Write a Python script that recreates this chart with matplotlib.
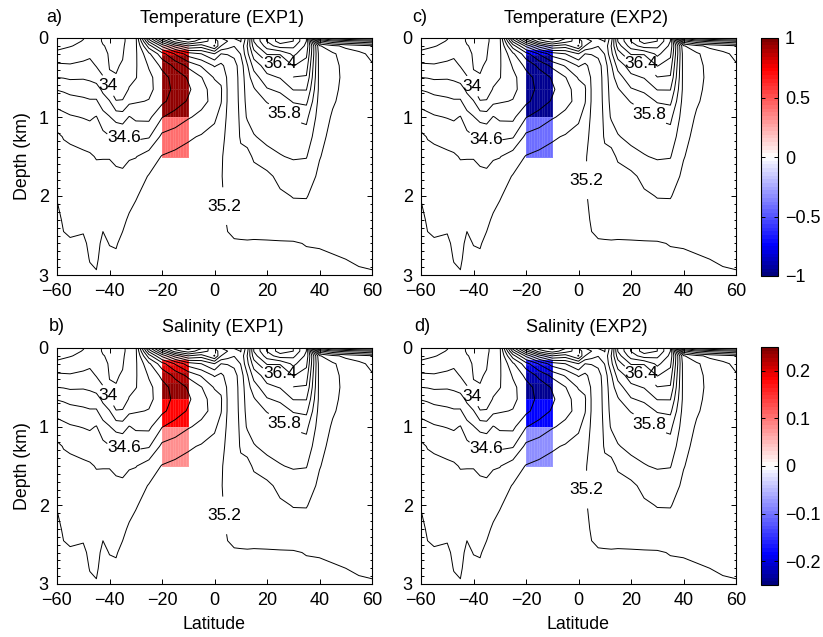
import numpy as np
import matplotlib
matplotlib.use("Agg")
import matplotlib.pyplot as plt
from matplotlib.colors import LinearSegmentedColormap, Normalize
from matplotlib.cm import ScalarMappable
from matplotlib.ticker import MultipleLocator, FuncFormatter

plt.rcParams['font.family'] = ['Liberation Sans', 'DejaVu Sans']

# ---------------------------------------------------------------------------
# Zonal-mean salinity section (psu): one profile per latitude, on `depth` (km)
# ---------------------------------------------------------------------------
lat = [-60, -57.5, -55, -50, -47.5, -45, -42.5, -40, -37.5, -35, -32.5, -30,
       -25, -20, -15, -10, -5, 0, 2.5, 5, 7.5, 10, 12.5, 15, 20, 25, 30, 35,
       40, 45, 50, 55, 60]
depth = [0, 0.04, 0.1, 0.2, 0.35, 0.5, 0.65, 0.8, 1.0, 1.25, 1.5, 1.75, 2.0,
         2.3, 2.6, 2.8, 3.0]

s60S = [33.66, 33.68, 33.74, 33.85, 34.04, 34.20, 34.39, 34.53, 34.68, 34.84, 34.90, 34.94, 34.99, 35.04, 35.06, 35.07, 35.08]
s57S = [33.70, 33.72, 33.77, 33.86, 34.03, 34.19, 34.37, 34.50, 34.65, 34.79, 34.86, 34.90, 34.94, 34.98, 35.02, 35.04, 35.05]
s55S = [33.72, 33.74, 33.79, 33.88, 34.02, 34.17, 34.34, 34.47, 34.62, 34.77, 34.85, 34.89, 34.93, 34.97, 35.01, 35.03, 35.04]
s50S = [33.79, 33.81, 33.84, 33.92, 34.05, 34.18, 34.32, 34.44, 34.59, 34.74, 34.83, 34.88, 34.92, 34.97, 35.02, 35.04, 35.05]
s47S = [33.85, 33.87, 33.90, 33.96, 34.06, 34.16, 34.30, 34.42, 34.57, 34.72, 34.82, 34.87, 34.91, 34.95, 34.98, 34.995, 35.02]
s45S = [33.86, 33.87, 33.90, 33.95, 33.99, 34.10, 34.30, 34.42, 34.61, 34.72, 34.79, 34.85, 34.89, 34.93, 34.96, 34.98, 35.01]
s42S = [33.78, 33.78, 33.81, 33.86, 33.94, 34.01, 34.15, 34.30, 34.47, 34.66, 34.79, 34.86, 34.92, 34.97, 35.03, 35.05, 35.06]
s40S = [33.76, 33.76, 33.77, 33.78, 33.79, 33.82, 34.01, 34.21, 34.41, 34.61, 34.79, 34.86, 34.91, 34.96, 34.995, 35.03, 35.05]
s37S = [33.76, 33.76, 33.77, 33.78, 33.79, 33.805, 33.88, 34.01, 34.32, 34.61, 34.76, 34.84, 34.90, 34.95, 34.99, 35.02, 35.04]
s35S = [33.77, 33.77, 33.78, 33.79, 33.81, 33.86, 33.93, 34.01, 34.30, 34.58, 34.74, 34.84, 34.90, 34.97, 35.03, 35.05, 35.06]
s32S = [33.85, 33.85, 33.86, 33.88, 33.92, 33.96, 34.01, 34.15, 34.41, 34.62, 34.78, 34.88, 34.95, 35.02, 35.06, 35.07, 35.08]
s30S = [33.95, 33.95, 33.96, 33.97, 33.98, 33.99, 34.08, 34.18, 34.36, 34.56, 34.79, 34.92, 34.99, 35.04, 35.07, 35.08, 35.08]
s25S = [35.30, 35.05, 34.70, 34.36, 34.22, 34.15, 34.15, 34.21, 34.35, 34.58, 34.90, 35.01, 35.05, 35.07, 35.08, 35.09, 35.09]
s20S = [36.10, 35.75, 35.25, 34.72, 34.45, 34.32, 34.30, 34.35, 34.59, 34.85, 35.01, 35.05, 35.07, 35.08, 35.09, 35.09, 35.09]
s15S = [36.50, 36.30, 35.70, 35.02, 34.65, 34.48, 34.45, 34.50, 34.68, 34.90, 35.05, 35.07, 35.08, 35.09, 35.09, 35.10, 35.10]
s10S = [36.70, 36.50, 36.00, 35.30, 34.85, 34.62, 34.57, 34.62, 34.78, 34.97, 35.08, 35.09, 35.09, 35.10, 35.10, 35.10, 35.10]
s05S = [36.42, 36.30, 35.90, 35.40, 35.02, 34.79, 34.72, 34.74, 34.85, 35.02, 35.10, 35.10, 35.10, 35.10, 35.10, 35.10, 35.10]
s00 = [36.00, 36.10, 36.22, 35.60, 35.22, 35.02, 34.90, 34.86, 34.97, 35.06, 35.10, 35.10, 35.10, 35.10, 35.10, 35.10, 35.10]
s02N = [35.80, 35.90, 35.80, 35.40, 35.15, 35.04, 34.98, 34.99, 35.06, 35.14, 35.18, 35.19, 35.18, 35.15, 35.12, 35.11, 35.10]
s05N = [35.70, 35.80, 35.70, 35.41, 35.28, 35.23, 35.22, 35.22, 35.24, 35.25, 35.26, 35.25, 35.24, 35.22, 35.18, 35.15, 35.13]
s07N = [35.58, 35.70, 35.61, 35.45, 35.32, 35.30, 35.30, 35.30, 35.30, 35.30, 35.30, 35.29, 35.27, 35.24, 35.19, 35.16, 35.14]
s10N = [35.58, 35.59, 35.65, 35.61, 35.50, 35.48, 35.47, 35.46, 35.44, 35.42, 35.36, 35.33, 35.30, 35.25, 35.19, 35.16, 35.14]
s12N = [35.90, 35.95, 36.01, 35.95, 35.78, 35.72, 35.69, 35.67, 35.63, 35.45, 35.36, 35.32, 35.30, 35.26, 35.19, 35.16, 35.14]
s15N = [36.62, 36.61, 36.50, 36.30, 36.08, 35.90, 35.78, 35.72, 35.66, 35.59, 35.42, 35.35, 35.31, 35.25, 35.19, 35.16, 35.14]
s20N = [37.02, 37.01, 36.90, 36.62, 36.30, 36.15, 35.98, 35.81, 35.70, 35.64, 35.55, 35.34, 35.30, 35.26, 35.19, 35.16, 35.14]
s25N = [37.30, 37.30, 37.10, 36.62, 36.35, 36.21, 36.05, 35.88, 35.75, 35.67, 35.59, 35.47, 35.36, 35.28, 35.19, 35.17, 35.15]
s30N = [37.20, 37.20, 37.05, 36.85, 36.61, 36.39, 36.21, 36.02, 35.82, 35.70, 35.62, 35.50, 35.41, 35.30, 35.19, 35.17, 35.16]
s35N = [36.80, 36.80, 36.75, 36.65, 36.50, 36.38, 36.21, 36.05, 35.85, 35.72, 35.61, 35.50, 35.41, 35.32, 35.205, 35.18, 35.17]
s40N = [34.30, 34.85, 35.42, 35.50, 35.52, 35.53, 35.54, 35.52, 35.50, 35.45, 35.41, 35.36, 35.32, 35.28, 35.21, 35.18, 35.17]
s45N = [34.05, 34.62, 35.25, 35.43, 35.45, 35.45, 35.44, 35.42, 35.38, 35.35, 35.32, 35.30, 35.28, 35.26, 35.22, 35.19, 35.17]
s50N = [33.95, 34.52, 35.15, 35.31, 35.35, 35.36, 35.35, 35.34, 35.32, 35.30, 35.28, 35.27, 35.26, 35.25, 35.23, 35.20, 35.18]
s55N = [33.88, 34.45, 35.08, 35.25, 35.30, 35.30, 35.30, 35.29, 35.28, 35.27, 35.26, 35.25, 35.24, 35.23, 35.22, 35.213, 35.185]
s60N = [33.82, 34.38, 35.02, 35.15, 35.22, 35.25, 35.25, 35.25, 35.24, 35.24, 35.23, 35.23, 35.22, 35.22, 35.215, 35.21, 35.195]

salinity = np.column_stack([s60S, s57S, s55S, s50S, s47S, s45S, s42S, s40S,
                            s37S, s35S, s32S, s30S, s25S, s20S, s15S, s10S,
                            s05S, s00, s02N, s05N, s07N, s10N, s12N, s15N,
                            s20N, s25N, s30N, s35N, s40N, s45N, s50N, s55N,
                            s60N])

contour_levels = [round(33.8 + 0.2 * i, 1) for i in range(18)]
labelled_levels = [34.0, 34.6, 35.2, 35.8, 36.4]
plain_levels = [v for v in contour_levels if v not in labelled_levels]

# ---------------------------------------------------------------------------
# Imposed anomaly box (20S-10S), one value per model layer
# ---------------------------------------------------------------------------
box_lat_edges = [-20, -19, -18, -17, -16, -15, -14, -13, -12, -11, -10]
box_depth_edges = [0.09, 0.15, 0.22, 0.3, 0.45, 0.65, 1.0, 1.5]
temp_exp1 = [0.2, 0.75, 0.95, 0.95, 0.95, 0.95, 0.43]
temp_exp2 = [-0.2, -0.75, -0.95, -0.95, -0.95, -0.95, -0.43]
salt_exp1 = [0.03, 0.17, 0.2, 0.225, 0.235, 0.185, 0.085]
salt_exp2 = [-0.03, -0.17, -0.2, -0.225, -0.235, -0.185, -0.085]

# clabel anchor points (one per labelled level) for the two experiment columns
label_pos_exp1 = [(-41, 0.61), (-34, 1.28), (3.3, 2.13), (27, 0.95), (25, 0.31)]
label_pos_exp2 = [(-41, 0.62), (-35, 1.30), (3.1, 1.80), (28, 0.92), (24, 0.31)]

cmap = LinearSegmentedColormap.from_list(
    'bwr_dark',
    [(0.0, (0.0, 0.0, 0.5)), (0.125, (0.0, 0.0, 1.0)), (0.5, (1.0, 1.0, 1.0)),
     (0.875, (1.0, 0.0, 0.0)), (1.0, (0.5, 0.0, 0.0))], N=64)

W, H = 823, 637
fig = plt.figure(figsize=(W / 100, H / 100), dpi=100)


def rect(l, t, r, b):
    return [l / W, 1 - b / H, (r - l) / W, (b - t) / H]


def fmt_num(v, pos=None):
    s = f"{v:g}"
    return s.replace('-', '\u2212')


def panel(box, title, letter, anom, vmax, label_pos, first_col, bottom_row,
          title_pad, letter_dx):
    ax = fig.add_axes(box)
    norm = Normalize(-vmax, vmax)
    C = np.tile(np.asarray(anom)[:, None], (1, len(box_lat_edges) - 1))
    ax.pcolormesh(box_lat_edges, box_depth_edges, C, cmap=cmap, norm=norm,
                  edgecolors=(1, 1, 1, 0.12), linewidth=0.4, zorder=1)
    ax.contour(lat, depth, salinity, levels=plain_levels, colors='k',
               linewidths=0.7, zorder=2)
    cs = ax.contour(lat, depth, salinity, levels=labelled_levels, colors='k',
                    linewidths=0.7, zorder=2)
    texts = ax.clabel(cs, manual=label_pos, inline=True, inline_spacing=2,
                      fontsize=12.5, fmt=lambda v: f"{round(v, 1):g}")
    for t in texts:
        t.set_rotation(0)
    ax.set_xlim(-60, 60)
    ax.set_ylim(3, 0)
    ax.xaxis.set_major_locator(MultipleLocator(20))
    ax.yaxis.set_major_locator(MultipleLocator(1))
    ax.yaxis.set_minor_locator(MultipleLocator(0.1))
    ax.tick_params(which='both', direction='in', top=True, right=True,
                   labelsize=13, width=0.7)
    ax.tick_params(which='major', length=3.5)
    ax.tick_params(which='minor', length=1.8)
    ax.tick_params(axis='x', pad=6)
    ax.tick_params(axis='y', pad=6)
    for sp in ax.spines.values():
        sp.set_linewidth(0.8)
    ax.set_title(title, fontsize=13, pad=title_pad, x=0.525)
    ax.text(letter_dx, 1.0 + (title_pad + 1) / 170.0, letter,
            transform=ax.transAxes, fontsize=13, va='baseline', ha='left')
    if first_col:
        ax.set_ylabel('Depth (km)', fontsize=12.8)
        ax.yaxis.set_label_coords(-0.082, 0.5)
    if bottom_row:
        ax.set_xlabel('Latitude', fontsize=12.8)
        ax.xaxis.set_label_coords(0.5, -0.135)
    return ax


panel(rect(57, 38, 372, 275), 'Temperature (EXP1)', 'a)', temp_exp1, 1.0,
      label_pos_exp1, True, False, 10.5, -0.035)
panel(rect(57, 348, 372, 584), 'Salinity (EXP1)', 'b)', salt_exp1, 0.25,
      label_pos_exp1, True, True, 11.5, -0.025)
panel(rect(421, 38, 736, 275), 'Temperature (EXP2)', 'c)', temp_exp2, 1.0,
      label_pos_exp2, False, False, 10.5, -0.027)
panel(rect(421, 348, 736, 584), 'Salinity (EXP2)', 'd)', salt_exp2, 0.25,
      label_pos_exp2, False, True, 11.5, -0.02)


def colorbar(box, vmax, ticks):
    cax = fig.add_axes(box)
    sm = ScalarMappable(norm=Normalize(-vmax, vmax), cmap=cmap)
    cb = fig.colorbar(sm, cax=cax, ticks=ticks)
    cb.ax.yaxis.set_major_formatter(FuncFormatter(fmt_num))
    cb.ax.tick_params(direction='in', left=True, right=True, length=3,
                      width=0.7, labelsize=13, pad=5)
    cb.outline.set_linewidth(0.8)
    return cb


colorbar(rect(761, 38, 778, 276), 1.0, [-1, -0.5, 0, 0.5, 1])
colorbar(rect(761, 347, 778, 585), 0.25, [-0.2, -0.1, 0, 0.1, 0.2])

fig.savefig('out.png', dpi=100)
